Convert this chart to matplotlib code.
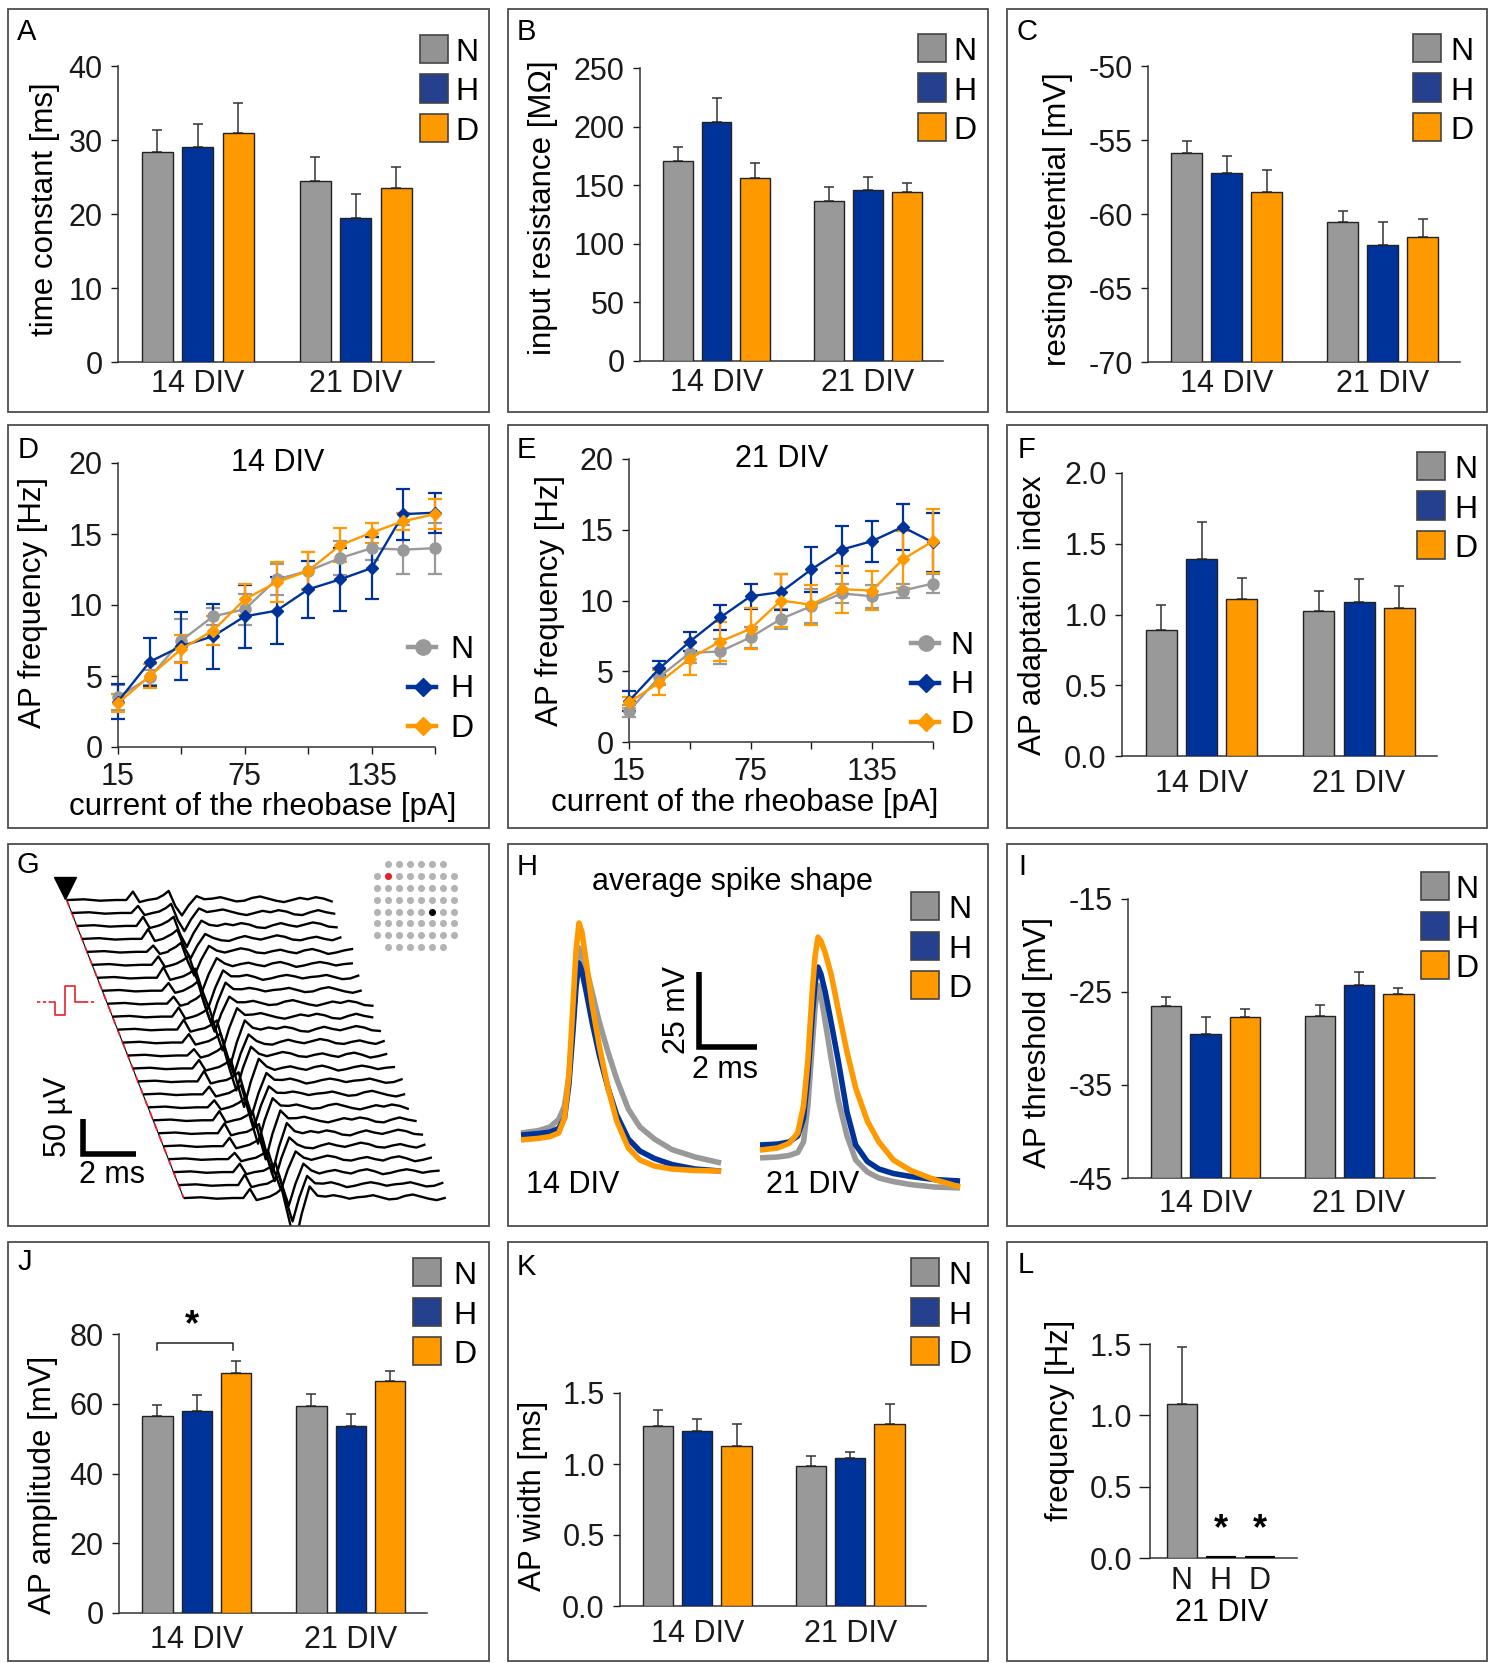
import numpy as np
import matplotlib.pyplot as plt
from matplotlib.patches import Rectangle
from matplotlib.lines import Line2D

plt.rcParams['font.family'] = ['Liberation Sans', 'DejaVu Sans']
plt.rcParams['font.size'] = 22
plt.rcParams['axes.unicode_minus'] = False

W, H = 1497, 1663
GREY, BLUE, ORANGE = '#999999', '#003399', '#ff9900'
LEG_COLS = ['#939393', '#25408f', '#ff9900']
GROUPS = ['N', 'H', 'D']
DIVS = ['14 DIV', '21 DIV']
BAR_X = [0, 1, 2, 3.9, 4.9, 5.9]
FS_TICK, FS_LAB, FS_LEG = 22, 22.5, 23

# --- bar data, order: N14, H14, D14, N21, H21, D21 ---
tau_mean = [28.4, 29.0, 31.0, 24.5, 19.5, 23.5]
tau_sem = [2.9, 3.1, 4.0, 3.2, 3.2, 2.8]
rin_mean = [170.3, 203.6, 156.0, 136.1, 145.5, 144.6]
rin_sem = [11.9, 20.4, 12.8, 12.5, 11.1, 7.7]
vrest_mean = [-55.86, -57.25, -58.54, -60.56, -62.1, -61.58]
vrest_sem = [0.81, 1.15, 1.49, 0.76, 1.56, 1.24]
adapt_mean = [0.893, 1.395, 1.107, 1.025, 1.088, 1.048]
adapt_sem = [0.172, 0.259, 0.151, 0.141, 0.163, 0.153]
thr_mean = [-26.49, -29.5, -27.74, -27.6, -24.3, -25.19]
thr_sem = [0.97, 1.83, 0.9, 1.22, 1.4, 0.61]
amp_mean = [56.5, 58.0, 68.8, 59.3, 53.7, 66.5]
amp_sem = [3.0, 4.4, 3.6, 3.4, 3.4, 3.0]
width_mean = [1.27, 1.23, 1.127, 0.986, 1.04, 1.284]
width_sem = [0.11, 0.089, 0.152, 0.07, 0.045, 0.136]
spont_mean = [1.079, 0.0, 0.0]
spont_sem = [0.398, 0.0, 0.0]

# --- f-I curves ---
current = [15, 30, 45, 60, 75, 90, 105, 120, 135, 150, 165]
fi14_N = [3.5, 4.9, 7.5, 9.2, 9.7, 11.8, 12.4, 13.3, 14.0, 13.9, 14.0]
fi14_N_sem = [0.9, 0.5, 1.5, 0.6, 1.1, 1.1, 1.35, 1.2, 0.8, 1.7, 1.8]
fi14_H = [3.2, 6.0, 7.1, 7.8, 9.2, 9.6, 11.1, 11.8, 12.6, 16.4, 16.5]
fi14_H_sem = [1.25, 1.7, 2.4, 2.3, 2.2, 2.35, 2.0, 2.2, 2.2, 1.8, 1.4]
fi14_D = [3.1, 5.0, 6.9, 8.2, 10.4, 11.6, 12.4, 14.2, 15.1, 15.9, 16.4]
fi14_D_sem = [0.6, 0.85, 1.0, 1.0, 1.1, 1.4, 1.3, 1.2, 0.7, 0.6, 1.05]
fi21_N = [2.2, 4.6, 6.3, 6.4, 7.4, 8.7, 9.6, 10.5, 10.3, 10.7, 11.2]
fi21_N_sem = [0.4, 0.6, 0.75, 0.9, 0.75, 0.7, 1.2, 0.7, 0.8, 0.5, 0.65]
fi21_H = [2.9, 5.2, 7.1, 8.8, 10.3, 10.6, 12.2, 13.6, 14.2, 15.2, 14.1]
fi21_H_sem = [0.7, 0.5, 0.7, 0.9, 0.9, 1.25, 1.6, 1.65, 1.45, 1.65, 2.1]
fi21_D = [2.8, 4.2, 5.9, 7.1, 8.0, 10.0, 9.7, 10.8, 10.7, 12.9, 14.2]
fi21_D_sem = [0.4, 0.9, 1.2, 1.4, 1.45, 1.9, 1.4, 1.65, 1.4, 2.0, 2.25]

# --- average spike shapes (ms from trace start, mV) ---
sp_t = [0, 0.6, 1.0, 1.3, 1.5, 1.65, 1.8, 1.9, 2.0, 2.1, 2.25, 2.45, 2.7, 3.0, 3.3, 3.7, 4.1, 4.6, 5.2, 6.0, 6.9]
sp14_N = [31, 31.8, 33, 35.5, 40, 50, 68, 84, 92.7, 91, 86, 78, 68, 58, 49, 39, 33, 29, 25.5, 23, 21]
sp14_H = [30.3, 30.8, 31.3, 32.5, 36, 47, 66, 80, 87.7, 85, 78, 68, 57, 46, 37, 29, 25, 22.5, 20.5, 19, 18.3]
sp14_D = [28.7, 29.2, 29.8, 31, 36, 50, 75, 92, 101, 98, 88, 74, 60, 46, 35, 26, 22, 20, 19, 18.5, 18.3]
sp21_N = [22.7, 23, 23.5, 24.5, 28, 40, 60, 73, 80.3, 77, 68, 56, 42, 30, 22, 18, 16, 14.8, 13.8, 13, 12.7]
sp21_H = [27, 27.3, 28, 30, 36, 50, 70, 81, 86.3, 84, 78, 68, 55, 38, 27, 21.5, 19, 17.5, 16.5, 15.5, 15]
sp21_D = [25.3, 26, 27.5, 31, 40, 55, 78, 90, 96.3, 95, 91, 84, 72, 58, 46, 35, 28, 22, 18.5, 15.5, 13]

# --- propagation traces (panel G): per-electrode spike latency / size ---
g_dip_lat = [4.15, 4.05, 3.95, 3.9, 3.85, 3.95, 4.0, 3.9, 3.85, 3.95, 4.05, 4.0,
             3.9, 4.0, 4.1, 4.0, 3.95, 4.05, 4.1, 4.0, 4.05, 4.15, 4.1, 4.0]
g_dip_amp = [22, 26, 30, 28, 34, 38, 42, 46, 40, 48, 52, 46,
             50, 55, 48, 46, 52, 56, 58, 50, 44, 48, 52, 66]
g_bump_amp = [12, 10, 13, 14, 9, 12, 15, 11, 10, 13, 14, 12,
              9, 12, 15, 11, 10, 13, 14, 12, 9, 12, 15, 13]
g_wiggle = [2, 4, 1, -2, -1, 3, 5, 2, -1, -3, 0, 3, 1, 4, 2, -2, -3, 1, 4, 1,
            -1, 2, 5, 3, -1, -2, 1, 3, 0, -2, 2, 4, 1, -3, -1, 2, 4, 2, -1, 1]

fig = plt.figure(figsize=(W / 100, H / 100), dpi=100)
fig.patch.set_facecolor('white')


def fx(x):
    return x / W


def fy(y):
    return 1 - y / H


def px_axes(box):
    l, t, r, b = box
    return fig.add_axes([l / W, 1 - b / H, (r - l) / W, (b - t) / H])


def style(ax):
    for s in ['top', 'right']:
        ax.spines[s].set_visible(False)
    for s in ['left', 'bottom']:
        ax.spines[s].set_linewidth(1.1)
        ax.spines[s].set_color('#333333')
    ax.tick_params(colors='#1a1a1a', width=1, labelsize=FS_TICK)


def set_ylab(ax, box, text, xy):
    l, t, r, b = box
    ax.set_ylabel(text, fontsize=FS_LAB, va='center', ha='center')
    ax.yaxis.set_label_coords((xy[0] - l) / (r - l), (b - xy[1]) / (b - t))


def sq_legend(x0, top, xtext):
    for k, (lab, col) in enumerate(zip(GROUPS, LEG_COLS)):
        y0 = top + k * 39.5
        fig.add_artist(Rectangle((fx(x0), fy(y0 + 28)), 28 / W, 28 / H, transform=fig.transFigure,
                                 facecolor=col, edgecolor='#444444', lw=1.2))
        fig.text(fx(xtext), fy(y0 + 26), lab, fontsize=FS_LEG, va='baseline', ha='left')


def bar_panel(box, mean, sem, ylim, yticks, yticklabels, ylabel, ylab_xy, xpad=8):
    ax = px_axes(box)
    base = ylim[0]
    ax.bar(BAR_X, np.array(mean) - base, bottom=base, width=0.77,
           color=[GREY, BLUE, ORANGE] * 2, edgecolor='#222222', linewidth=1.0, zorder=3)
    ax.errorbar(BAR_X, mean, yerr=[np.zeros(len(mean)), sem], fmt='none', ecolor='#333333',
                elinewidth=1.1, capsize=3.5, capthick=1.1, zorder=2)
    ax.set_xlim(-0.97, 6.83)
    ax.set_ylim(*ylim)
    style(ax)
    ax.set_yticks(yticks)
    ax.set_yticklabels(yticklabels)
    ax.set_xticks([1, 4.9])
    ax.set_xticklabels(DIVS)
    ax.tick_params(axis='y', length=5, pad=6)
    ax.tick_params(axis='x', length=0, pad=xpad)
    set_ylab(ax, box, ylabel, ylab_xy)
    return ax


def line_panel(box, series, title, ylab_xy, xlab_xy):
    ax = px_axes(box)
    for vals, err, col, mk, ms in series:
        ax.errorbar(current, vals, yerr=err, color=col, marker=mk, ms=ms, lw=1.7,
                    elinewidth=1.6, capsize=5, capthick=1.6, clip_on=False, zorder=3)
    ax.set_xlim(15, 165)
    ax.set_ylim(0, 20)
    style(ax)
    ax.set_yticks([0, 5, 10, 15, 20])
    ax.set_xticks([15, 45, 75, 105, 135, 165])
    ax.set_xticklabels(['15', '', '75', '', '135', ''])
    ax.tick_params(axis='both', length=5, pad=6)
    ax.text(90.5, 20, title, ha='center', va='center', fontsize=FS_TICK)
    set_ylab(ax, box, 'AP frequency [Hz]', ylab_xy)
    l, t, r, b = box
    ax.set_xlabel('current of the rheobase [pA]', fontsize=FS_LAB, va='center')
    ax.xaxis.set_label_coords((xlab_xy[0] - l) / (r - l), (b - xlab_xy[1]) / (b - t))
    return ax


def line_legend(xm, ytop, xtext):
    styles = [('N', GREY, 'o', 11), ('H', BLUE, 'D', 9), ('D', ORANGE, 'D', 9)]
    for k, (lab, col, mk, ms) in enumerate(styles):
        y = ytop + k * 39.5
        fig.add_artist(Line2D([fx(xm - 15), fx(xm + 13)], [fy(y), fy(y)], color=col, lw=3.2,
                              transform=fig.transFigure))
        fig.add_artist(Line2D([fx(xm)], [fy(y)], marker=mk, ms=ms, color=col, lw=0,
                              transform=fig.transFigure))
        fig.text(fx(xtext), fy(y + 11), lab, fontsize=FS_LEG, va='baseline', ha='left')


# ---------------- row 1 ----------------
box = (118, 66, 434, 362)
bar_panel(box, tau_mean, tau_sem, (0, 40), [0, 10, 20, 30, 40], ['0', '10', '20', '30', '40'],
          'time constant [ms]', (45, 209), xpad=5)
sq_legend(420, 35, 455)

box = (640, 68, 943, 361)
bar_panel(box, rin_mean, rin_sem, (0, 250), [0, 50, 100, 150, 200, 250],
          ['0', '50', '100', '150', '200', '250'], 'input resistance [MΩ]', (543, 208), xpad=5)
sq_legend(918, 34, 953)

box = (1148, 66, 1460, 362)
bar_panel(box, vrest_mean, vrest_sem, (-70, -50), [-70, -65, -60, -55, -50],
          ['-70', '-65', '-60', '-55', '-50'], 'resting potential [mV]', (1058, 219), xpad=5)
sq_legend(1413, 34, 1450)

# ---------------- row 2 ----------------
box = (118, 463, 435, 747)
line_panel(box, [(fi14_N, fi14_N_sem, GREY, 'o', 8), (fi14_H, fi14_H_sem, BLUE, 'D', 6.5),
                 (fi14_D, fi14_D_sem, ORANGE, 'D', 6.5)], '14 DIV', (33, 602), (263, 807))
line_legend(423, 647, 450)

box = (629, 459, 933, 742)
line_panel(box, [(fi21_N, fi21_N_sem, GREY, 'o', 8), (fi21_H, fi21_H_sem, BLUE, 'D', 6.5),
                 (fi21_D, fi21_D_sem, ORANGE, 'D', 6.5)], '21 DIV', (550, 600), (745, 803))
line_legend(926, 643, 950)

box = (1122, 473, 1437, 756)
bar_panel(box, adapt_mean, adapt_sem, (0, 2.0), [0, 0.5, 1.0, 1.5, 2.0],
          ['0.0', '0.5', '1.0', '1.5', '2.0'], 'AP adaptation index', (1033, 615), xpad=9)
sq_legend(1417, 452, 1454)

# ---------------- row 3 ----------------
# G: propagation along the electrode array
gbox = (8, 844, 489, 1226)
axg = px_axes(gbox)
G_MS, G_UV = 26.5, 0.7
axg.set_xlim(0, (gbox[2] - gbox[0]) / G_MS)
axg.set_ylim(-(gbox[3] - gbox[1]) / G_UV, 0)
axg.axis('off')


def gx(x):
    return (x - gbox[0]) / G_MS


def gy(y):
    return -(y - gbox[1]) / G_UV


n_tr = len(g_dip_lat)
x_first, x_last = gx(68), gx(185)
y_first, y_last = gy(900), gy(1198)
for i in range(n_tr):
    L, A, B = g_dip_lat[i], g_dip_amp[i], g_bump_amp[i]
    t_pts = [0.0, 0.6, 1.2, 1.8, 2.2, 2.45, 2.7, 3.0,
             L - 0.8, L - 0.55, L - 0.35, L - 0.1, L + 0.15, L + 0.4, L + 0.7, L + 1.0]
    v_pts = [0, 1, -1, 0, 0, B, -3, 0,
             2, 7, 13, -0.4 * A, -A, -0.35 * A, 0.25 * A, 0.05 * A]
    tail_t = np.arange(L + 1.3, 10.0, 0.3)
    tail_v = np.roll(g_wiggle, -5 * i)[:len(tail_t)]
    tt = np.concatenate([t_pts, tail_t])
    vv = np.concatenate([v_pts, tail_v])
    x0 = x_first + (x_last - x_first) * i / (n_tr - 1)
    y0 = y_first + (y_last - y_first) * i / (n_tr - 1)
    axg.plot(x0 + tt, y0 + vv, color='black', lw=1.7, solid_joinstyle='round', zorder=3)

axg.plot([x_first - 0.05, x_last - 0.05], [y_first, y_last], color='black', lw=0.8, zorder=2)
axg.plot([x_first - 0.05, x_last - 0.05], [y_first, y_last], color='#e8202a', lw=1.3,
         dashes=(4, 3), zorder=2)
axg.plot(gx(65), gy(888), marker='v', ms=16, color='black', zorder=4)

# stimulus pulse
red = '#e8202a'
axg.plot([gx(37), gx(53)], [gy(1002), gy(1002)], color=red, lw=1.2, dashes=(2, 1.5))
axg.plot([gx(53), gx(55), gx(55), gx(65), gx(65), gx(75), gx(75), gx(85)],
         [gy(1002), gy(1002), gy(1015), gy(1015), gy(986), gy(986), gy(1002), gy(1002)],
         color=red, lw=1.2)
axg.plot([gx(85), gx(95)], [gy(1002), gy(1002)], color=red, lw=1.2, dashes=(2, 1.5))

# scale bar 50 uV / 2 ms
sb_x, sb_y = gx(83), gy(1154)
axg.plot([sb_x, sb_x, sb_x + 2.0], [sb_y + 50, sb_y, sb_y], color='black', lw=4,
         solid_capstyle='butt', solid_joinstyle='miter')
axg.text(gx(58), gy(1117), '50 µV', rotation=90, ha='center', va='center', fontsize=FS_TICK)
axg.text(gx(112), gy(1175), '2 ms', ha='center', va='center', fontsize=FS_TICK)

# electrode array inset
for r in range(8):
    for c in range(8):
        if (r in (0, 7)) and (c in (0, 7)):
            continue
        col = '#b3b3b3'
        if (r, c) == (1, 1):
            col = '#e8202a'
        elif (r, c) == (4, 5):
            col = 'black'
        axg.scatter(gx(377 + 11 * c), gy(864 + 11.9 * r), s=26, color=col, lw=0, zorder=5)

# H: average spike shapes
hbox = (508, 844, 988, 1226)
axh = px_axes(hbox)
H_MS, H_MV = 29.0, 3.0
axh.set_xlim(0, (hbox[2] - hbox[0]) / H_MS)
axh.set_ylim(0, (hbox[3] - hbox[1]) / H_MV)
axh.axis('off')


def hx(x):
    return (x - hbox[0]) / H_MS


def hy(y):
    return (hbox[3] - y) / H_MV


t14 = hx(521) + np.array(sp_t)
t21 = hx(760) + np.array(sp_t)
for tt, trio in [(t14, (sp14_N, sp14_H, sp14_D)), (t21, (sp21_N, sp21_H, sp21_D))]:
    for v, col in zip(trio, [GREY, BLUE, ORANGE]):
        axh.plot(tt, v, color=col, lw=4, solid_capstyle='butt', solid_joinstyle='round')
sx, sy = hx(699), hy(1047)
axh.plot([sx, sx, sx + 2.0], [sy + 25, sy, sy], color='black', lw=4,
         solid_capstyle='butt', solid_joinstyle='miter')
axh.text(hx(677), hy(1010), '25 mV', rotation=90, ha='center', va='center', fontsize=FS_TICK)
axh.text(hx(725), hy(1070), '2 ms', ha='center', va='center', fontsize=FS_TICK)
axh.text(hx(573), hy(1185), '14 DIV', ha='center', va='center', fontsize=FS_TICK)
axh.text(hx(813), hy(1185), '21 DIV', ha='center', va='center', fontsize=FS_TICK)
axh.text(hx(732), hy(882), 'average spike shape', ha='center', va='center', fontsize=FS_TICK)
sq_legend(911, 892, 948)

box = (1128, 899, 1435, 1178)
bar_panel(box, thr_mean, thr_sem, (-45, -15), [-45, -35, -25, -15], ['-45', '-35', '-25', '-15'],
          'AP threshold [mV]', (1038, 1043), xpad=8)
sq_legend(1421, 872, 1455)

# ---------------- row 4 ----------------
box = (119, 1334, 427, 1613)
axj = bar_panel(box, amp_mean, amp_sem, (0, 80), [0, 20, 40, 60, 80], ['0', '20', '40', '60', '80'],
                'AP amplitude [mV]', (43, 1485), xpad=9)
axj.plot([0, 0, 1.92, 1.92], [75.4, 77.4, 77.4, 75.4], color='#222222', lw=1.1, clip_on=False)
axj.text(0.87, 82.5, '*', ha='center', va='center', fontsize=26, fontweight='bold')
sq_legend(413, 1258, 453)

box = (620, 1393, 926, 1606)
bar_panel(box, width_mean, width_sem, (0, 1.5), [0, 0.5, 1.0, 1.5], ['0.0', '0.5', '1.0', '1.5'],
          'AP width [ms]', (533, 1496), xpad=9)
sq_legend(911, 1258, 948)

box = (1150, 1344, 1297, 1558)
axl = px_axes(box)
axl.bar([0], spont_mean[:1], width=0.77, color=GREY, edgecolor='#222222', linewidth=1.0, zorder=3)
axl.bar([1, 2], spont_mean[1:], width=0.77, color='black', edgecolor='black', linewidth=3, zorder=3)
axl.errorbar([0], spont_mean[:1], yerr=[[0], spont_sem[:1]], fmt='none', ecolor='#333333',
             elinewidth=1.1, capsize=3.5, capthick=1.1, zorder=2)
axl.set_xlim(-0.82, 2.96)
axl.set_ylim(0, 1.5)
style(axl)
axl.set_yticks([0, 0.5, 1.0, 1.5])
axl.set_yticklabels(['0.0', '0.5', '1.0', '1.5'])
axl.set_xticks([0, 1, 2])
axl.set_xticklabels(GROUPS)
axl.tick_params(axis='y', length=8, pad=5)
axl.tick_params(axis='x', length=0, pad=6)
set_ylab(axl, box, 'frequency [Hz]', (1060, 1420))
axl.set_xlabel('21 DIV', fontsize=FS_TICK, va='center')
axl.xaxis.set_label_coords((1222 - box[0]) / (box[2] - box[0]), (box[3] - 1613) / (box[3] - box[1]))
for xs in (1, 2):
    axl.text(xs, 0.2, '*', ha='center', va='center', fontsize=26, fontweight='bold')

# ---------------- panel frames and letters ----------------
cols = [(8, 489), (508, 988), (1007, 1487)]
rows = [(9, 412), (425, 828), (844, 1226), (1242, 1661)]
letters = 'ABCDEFGHIJKL'
letter_pos = [(17, 40), (517, 40), (1017, 40), (18, 458), (517, 458), (1018, 458),
              (17, 873), (517, 875), (1018, 875), (18, 1270), (517, 1275), (1018, 1273)]
for ri, (t, b) in enumerate(rows):
    for ci, (l, r) in enumerate(cols):
        fig.add_artist(Rectangle((fx(l), fy(b)), (r - l) / W, (b - t) / H, transform=fig.transFigure,
                                 fill=False, edgecolor='#4d4d4d', lw=1.3))
for lab, (x, y) in zip(letters, letter_pos):
    fig.text(fx(x), fy(y), lab, fontsize=21, ha='left', va='baseline')

fig.savefig('out.png', dpi=100, facecolor='white')
